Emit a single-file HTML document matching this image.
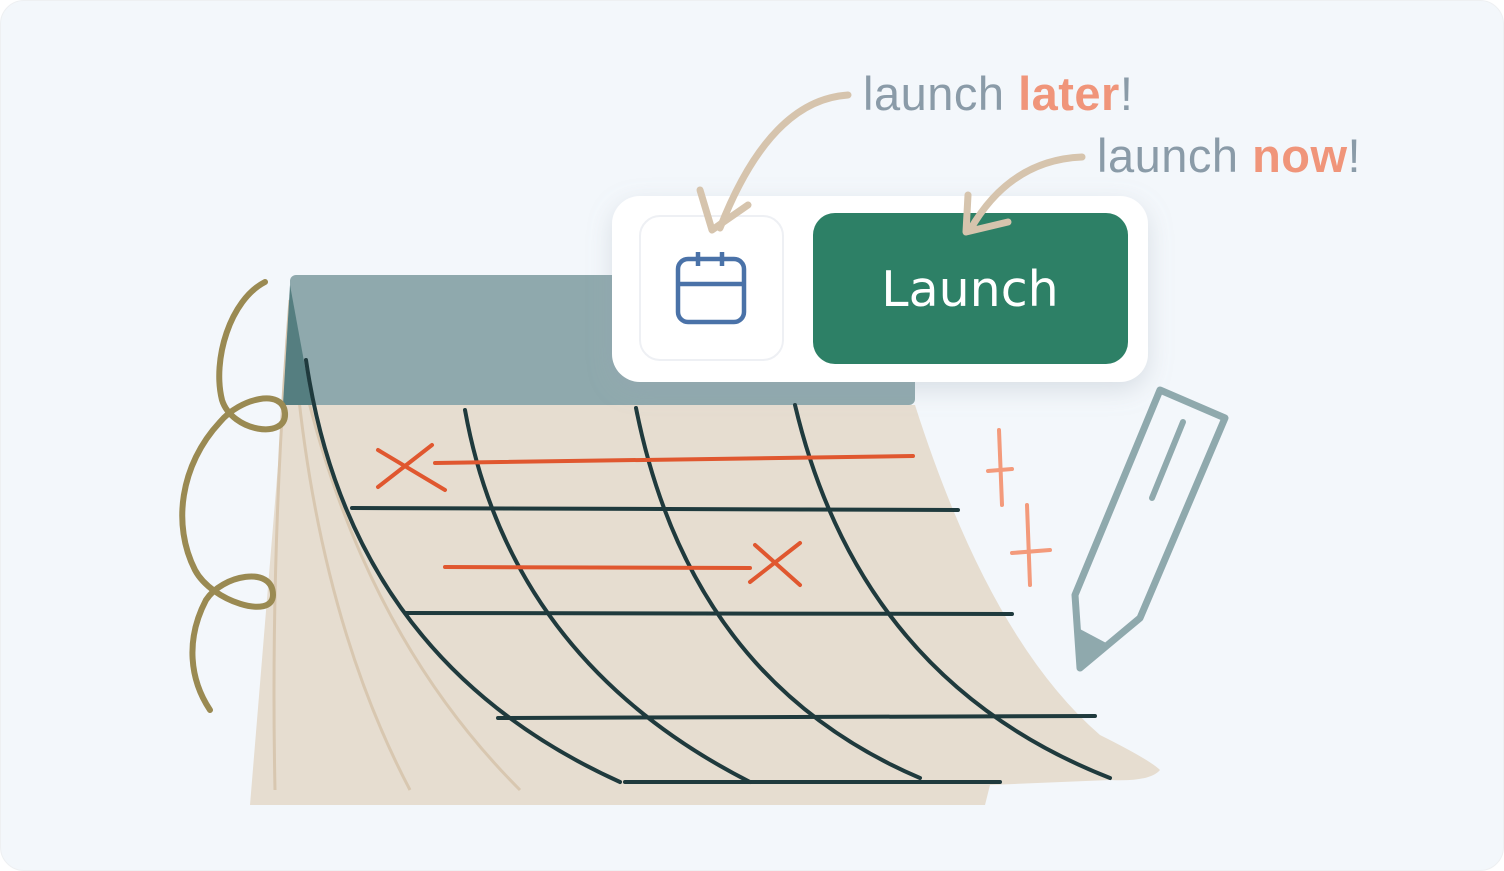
<!DOCTYPE html>
<html><head><style>
html,body{margin:0;padding:0;width:1504px;height:871px;overflow:hidden;background:#fff}
.bg{position:absolute;left:0;top:0;width:1502px;height:869px;background:#f3f7fb;border:1px solid #eef0f2;border-radius:24px}
.t{position:absolute;font-family:"Liberation Sans",sans-serif;font-size:47px;color:#8a9ba8;white-space:nowrap;letter-spacing:0.5px}
.t b{color:#f0957a}
</style></head><body>
<div class="bg"></div>
<svg width="1504" height="871" style="position:absolute;left:0;top:0">
<defs><filter id="sh" x="-20%" y="-20%" width="140%" height="160%"><feDropShadow dx="0" dy="8" stdDeviation="12" flood-color="#9aa4b0" flood-opacity="0.3"/></filter></defs>
<path d="M283,405 L915,405 Q990,640 1100,735 Q1150,760 1160,770 Q1150,782 1110,780 L990,785 L985,805 L250,805 Z" fill="#e6ddd0"/>
<path d="M290,300 Q270,550 275,790 M292,320 Q310,600 410,790 M295,340 Q350,620 520,790" stroke="#d8c7b0" stroke-width="3" fill="none"/>
<rect x="290" y="275" width="625" height="130" rx="6" fill="#8fa9ad"/>
<polygon points="290,285 312,405 283,405" fill="#557e80"/>
<g stroke="#1f3a3d" stroke-width="4" fill="none" stroke-linecap="round">
<line x1="352" y1="508" x2="958" y2="510"/>
<line x1="405" y1="613" x2="1012" y2="614"/>
<line x1="498" y1="718" x2="1095" y2="716"/>
<line x1="625" y1="782" x2="1000" y2="782"/>
<path d="M306,360 Q350,660 620,782"/>
<path d="M465,410 Q510,660 750,782"/>
<path d="M636,408 Q690,680 920,778"/>
<path d="M795,405 Q860,680 1110,778"/>
</g>
<g stroke="#e0572f" stroke-width="4" fill="none" stroke-linecap="round">
<line x1="378" y1="450" x2="445" y2="490"/><line x1="378" y1="487" x2="432" y2="445"/>
<line x1="435" y1="463" x2="913" y2="456"/>
<line x1="445" y1="567" x2="750" y2="568"/>
<line x1="755" y1="545" x2="800" y2="585"/><line x1="750" y1="582" x2="800" y2="543"/>
</g>
<g stroke="#f39a7b" stroke-width="4" fill="none" stroke-linecap="round">
<line x1="999" y1="430" x2="1002" y2="505"/><line x1="988" y1="471" x2="1012" y2="469"/>
<line x1="1027" y1="505" x2="1030" y2="585"/><line x1="1012" y1="553" x2="1050" y2="550"/>
</g>
<path d="M265,282 C230,300 212,360 222,400 C232,432 287,440 285,413 C283,388 240,398 220,422 C180,465 172,525 195,570 C212,602 273,620 273,595 C273,565 222,575 206,600 C185,640 190,680 210,710" stroke="#9a8a52" stroke-width="6" fill="none" stroke-linecap="round"/>
<polygon points="1160,390 1225,418 1140,618 1080,668 1075,595" fill="none" stroke="#8fa9ad" stroke-width="7" stroke-linejoin="round"/>
<polygon points="1078,628 1110,645 1080,668" fill="#8fa9ad"/>
<line x1="1152" y1="498" x2="1183" y2="422" stroke="#8fa9ad" stroke-width="6" stroke-linecap="round"/>
<rect x="612" y="196" width="536" height="186" rx="28" fill="#fff" filter="url(#sh)"/>
<rect x="640" y="216" width="143" height="144" rx="20" fill="#fff" stroke="#eef0f4" stroke-width="2"/>
<rect x="813" y="213" width="315" height="151" rx="22" fill="#2d8066"/>
<text x="970" y="306" text-anchor="middle" font-family="DejaVu Sans,Liberation Sans,sans-serif" font-size="49" fill="#fff">Launch</text>
<g stroke="#4a72a8" stroke-width="4.5" fill="none">
<rect x="678" y="259" width="66" height="63" rx="10"/>
<line x1="678" y1="284" x2="744" y2="284"/>
<line x1="698" y1="252" x2="698" y2="266"/><line x1="722" y1="252" x2="722" y2="266"/>
</g>
<g stroke="#d6c4ad" stroke-width="7" fill="none" stroke-linecap="round" stroke-linejoin="round">
<path d="M848,95 Q770,100 720,228"/>
<path d="M700,190 L712,230 L748,205"/>
<path d="M1082,157 Q1010,160 970,230"/>
<path d="M968,195 L966,232 L1008,222"/>
</g>
</svg>
<div class="t" style="left:863px;top:66px">launch <b>later</b>!</div>
<div class="t" style="left:1097px;top:128px">launch <b>now</b>!</div>
</body></html>
